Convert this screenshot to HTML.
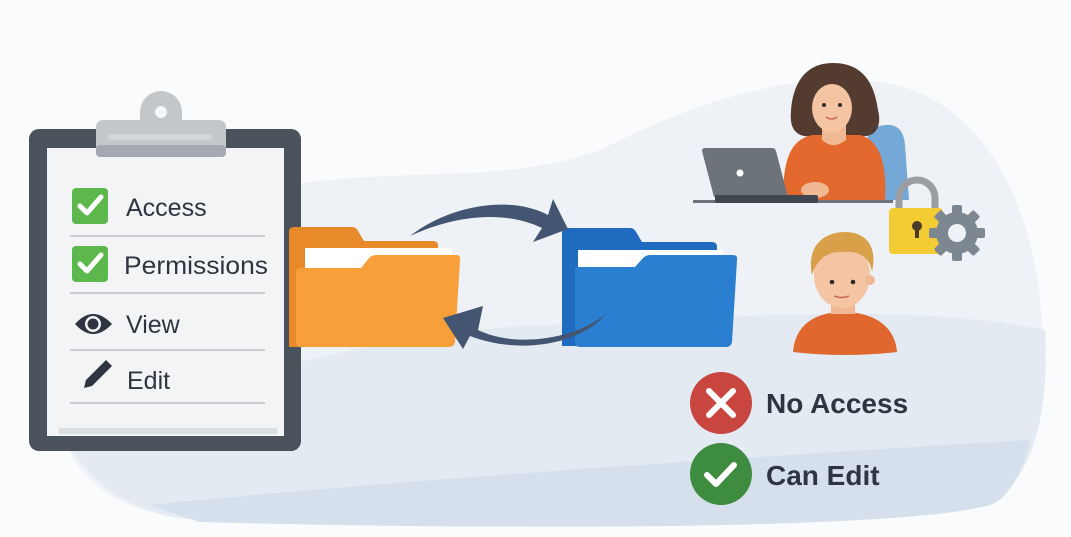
<!DOCTYPE html>
<html><head><meta charset="utf-8"><style>
html,body{margin:0;padding:0;background:#fafbfc;}
svg{display:block;}
text{font-family:"Liberation Sans","DejaVu Sans",sans-serif;fill:#2f3540;}
</style></head><body>
<svg width="1071" height="537" viewBox="0 0 1071 537" xmlns="http://www.w3.org/2000/svg">
<rect width="1071" height="537" fill="#fafbfc"/>
<path d="M60,300 C120,230 220,190 330,180 C430,170 520,180 600,150 C680,110 780,70 880,82 C980,95 1030,200 1040,300 C1050,400 1030,470 990,505 C900,530 500,530 200,520 C120,515 70,480 60,420 Z" fill="#eef1f5"/>
<path d="M60,420 C200,400 350,330 550,325 C700,320 900,300 1045,330 C1050,420 1030,480 990,505 C900,530 500,530 200,520 C120,515 75,470 60,420 Z" fill="#e3eaf2"/>
<path d="M150,505 C400,480 700,460 1030,440 C1020,480 1005,500 990,505 C900,530 500,530 200,522 Z" fill="#d5e0ec"/>

<rect x="29" y="129" width="272" height="322" rx="10" fill="#4a525b"/>
<rect x="47" y="148" width="237" height="288" fill="#f3f4f5"/>
<rect x="59" y="428" width="218" height="6" fill="#dcdfe2"/>
<path d="M140,122 v-10 a21,21 0 0 1 42,0 v10 z" fill="#c4c7ca"/>
<circle cx="161" cy="112" r="6" fill="#f6f7f8"/>
<rect x="96" y="120" width="130" height="37" rx="7" fill="#c4c7ca"/>
<rect x="96" y="145" width="130" height="12" rx="4" fill="#a3a9b0"/>
<rect x="108" y="134" width="104" height="6" rx="3" fill="#d3d6d9"/>

<rect x="72" y="188" width="36" height="36" rx="4" fill="#5cb84c"/>
<path d="M80,206 l7,7 l14,-16" stroke="#fff" stroke-width="5" fill="none" stroke-linecap="round" stroke-linejoin="round"/>
<text x="126" y="216" font-size="25">Access</text>
<line x1="70" y1="236" x2="265" y2="236" stroke="#c9ccd0" stroke-width="2"/>
<rect x="72" y="246" width="36" height="36" rx="4" fill="#5cb84c"/>
<path d="M80,264 l7,7 l14,-16" stroke="#fff" stroke-width="5" fill="none" stroke-linecap="round" stroke-linejoin="round"/>
<text x="124" y="274" font-size="25" textLength="144" lengthAdjust="spacingAndGlyphs">Permissions</text>
<line x1="70" y1="293" x2="265" y2="293" stroke="#c9ccd0" stroke-width="2"/>
<path d="M75,324 Q93,304 112,324 Q93,344 75,324 Z" fill="#2f3540"/>
<circle cx="93" cy="324" r="8" fill="#f3f4f5"/>
<circle cx="93" cy="324" r="5.5" fill="#2f3540"/>
<text x="126" y="333" font-size="25">View</text>
<line x1="70" y1="350" x2="265" y2="350" stroke="#c9ccd0" stroke-width="2"/>
<path d="M84,388 l2,-8 l20,-20 l6,6 l-20,20 z" fill="#2f3540"/>
<text x="127" y="389" font-size="25">Edit</text>
<line x1="70" y1="403" x2="265" y2="403" stroke="#c9ccd0" stroke-width="2"/>

<path d="M289,232 q0,-5 5,-5 h58 q4,0 6,4 l6,10 h69 q5,0 5,5 v101 h-149 z" fill="#e8892a"/>
<rect x="305" y="248" width="147" height="25" fill="#fff"/>
<path d="M301,268 h60 l8,-10 q3,-3 7,-3 h80 q5,0 4,5 l-5,82 q-1,5 -6,5 h-148 q-5,0 -5,-5 v-70 q0,-4 5,-4 z" fill="#f7a03a"/>

<path d="M562,233 q0,-5 5,-5 h63 q4,0 6,4 l6,10 h70 q5,0 5,5 v99 h-155 z" fill="#1e6bbf"/>
<rect x="578" y="250" width="145" height="25" fill="#fff"/>
<path d="M575,267 h60 l8,-9 q3,-3 7,-3 h83 q5,0 4,5 l-5,82 q-1,5 -6,5 h-146 q-5,0 -5,-5 v-71 q0,-4 0,-4 z" fill="#2b7fd0"/>

<path d="M410,236 C450,205 510,195 548,215 L553,199 L568,229 L533,242 L542,228 C505,210 455,215 410,236 Z" fill="#435571"/>
<path d="M607,313 C575,340 515,348 478,330 L483,306 L443,318 L463,349 L470,336 C520,355 580,345 607,313 Z" fill="#435571"/>

<path d="M909,200 L905,145 Q903,123 885,125 L868,128 L866,200 Z" fill="#74a8d6"/>
<path d="M833,63 C800,63 792,92 791,112 C789,130 798,138 812,136 L860,136 C876,138 882,126 878,110 C875,88 866,63 833,63 Z" fill="#533b2f"/>
<path d="M783,200 C783,160 790,140 812,135 L860,135 C880,140 887,165 885,200 Z" fill="#e3692e"/>
<path d="M822,120 L822,140 Q833,150 846,140 L846,120 Z" fill="#f1b894"/>
<ellipse cx="832" cy="108" rx="20" ry="24" fill="#f5c4a2"/>
<path d="M810,100 C812,80 830,75 852,90 C848,80 835,74 822,78 C812,82 808,92 810,100 Z" fill="#533b2f"/>
<circle cx="824" cy="105" r="2" fill="#2b2b2b"/><circle cx="840" cy="105" r="2" fill="#2b2b2b"/>
<path d="M826,117 q6,4 11,0" stroke="#c76a5a" stroke-width="1.5" fill="none"/>
<path d="M702,151 q0,-3 3,-3 h67 q3,0 4,3 l12,46 h-74 z" fill="#6c737b"/>
<circle cx="740" cy="173" r="3.5" fill="#fff"/>
<ellipse cx="815" cy="190" rx="14" ry="8" fill="#f1b894"/>
<rect x="693" y="200" width="200" height="3" fill="#6c737b"/>
<rect x="715" y="195" width="103" height="8" rx="2" fill="#3f4650"/>

<path d="M899,210 v-12 a18,18 0 0 1 36,0 v12" stroke="#9a9ea3" stroke-width="7" fill="none"/>
<rect x="889" y="208" width="54" height="46" rx="4" fill="#f3cc34"/>
<circle cx="917" cy="226" r="5" fill="#4a3b2a"/><rect x="915" y="226" width="4" height="12" fill="#4a3b2a"/>
<g transform="translate(957,233)" fill="#7d8791">
<circle r="21"/>
<rect x="-5" y="-28" width="10" height="56" rx="2"/>
<rect x="-5" y="-28" width="10" height="56" rx="2" transform="rotate(45)"/>
<rect x="-5" y="-28" width="10" height="56" rx="2" transform="rotate(90)"/>
<rect x="-5" y="-28" width="10" height="56" rx="2" transform="rotate(135)"/>
<circle r="9" fill="#eef1f5"/>
</g>

<path d="M793,352 C795,325 815,312 843,312 C872,312 895,325 897,352 Q845,358 793,352 Z" fill="#e0672e"/>
<rect x="831" y="292" width="24" height="22" fill="#f1b894"/>
<ellipse cx="842" cy="275" rx="28" ry="33" fill="#f5c4a2"/>
<circle cx="870" cy="280" r="5" fill="#f1b894"/>
<path d="M812,275 C806,245 825,232 845,232 C865,232 878,245 872,272 C870,258 860,250 840,252 C825,252 816,262 812,275 Z" fill="#d9a04a"/>
<circle cx="832" cy="282" r="2.3" fill="#2b2b2b"/><circle cx="853" cy="282" r="2.3" fill="#2b2b2b"/>
<path d="M834,296 q8,3 15,0" stroke="#c76a5a" stroke-width="1.5" fill="none"/>

<circle cx="721" cy="403" r="31" fill="#c9453f"/>
<path d="M709,391 l24,24 M733,391 l-24,24" stroke="#fff" stroke-width="6" stroke-linecap="round"/>
<text x="766" y="413" font-size="28" font-weight="bold">No Access</text>
<circle cx="721" cy="474" r="31" fill="#3e8c40"/>
<path d="M707,475 l9,9 l18,-19" stroke="#fff" stroke-width="6" fill="none" stroke-linecap="round" stroke-linejoin="round"/>
<text x="766" y="485" font-size="28" font-weight="bold">Can Edit</text>
</svg>
</body></html>
